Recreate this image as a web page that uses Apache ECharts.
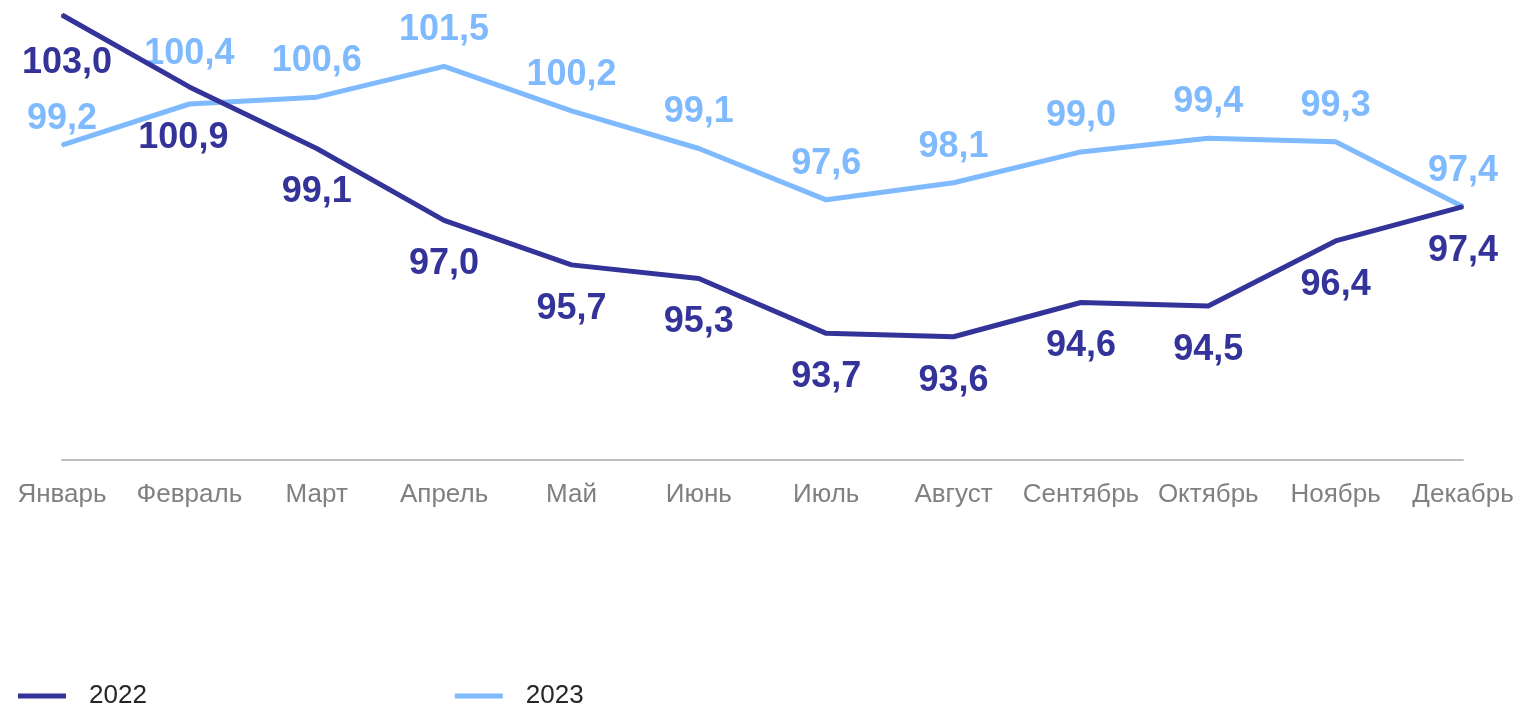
<!DOCTYPE html>
<html>
<head>
<meta charset="utf-8">
<script src="https://cdn.jsdelivr.net/npm/echarts@6/dist/echarts.min.js"></script>
<style>
  html, body { margin: 0; padding: 0; background: #fff; }
  #chart { width: 1519px; height: 707px; }
</style>
</head>
<body>
<div id="chart"></div>
<script>
// данные
var months = ["Январь", "Февраль", "Март", "Апрель", "Май", "Июнь", "Июль", "Август", "Сентябрь", "Октябрь", "Ноябрь", "Декабрь"];
var y2022 = [103.0, 100.9, 99.1, 97.0, 95.7, 95.3, 93.7, 93.6, 94.6, 94.5, 96.4, 97.4];
var y2023 = [99.2, 100.4, 100.6, 101.5, 100.2, 99.1, 97.6, 98.1, 99.0, 99.4, 99.3, 97.4];

var dark = "#333399";
var light = "#7fbaff";
var font = "'Liberation Sans', Arial, sans-serif";

function fmt(p) {
  return p.value.toFixed(1).replace(".", ",");
}

// сдвиги подписей, где они в оригинале стоят иначе
var shift2022 = { 0: [5, 4], 1: [-6, 7] };
var shift2023 = { 0: [0, 10], 1: [0, -14] };

function withShift(arr, shifts) {
  return arr.map(function (v, i) {
    if (shifts[i]) return { value: v, label: { offset: shifts[i] } };
    return v;
  });
}

var chart = echarts.init(document.getElementById("chart"));

var option = {
  animation: false,
  grid: { left: 62, right: 56, top: 15, bottom: 247 },
  legend: {
    left: 13,
    top: 678,
    itemWidth: 48,
    itemHeight: 5,
    itemGap: 308,
    icon: "rect",
    textStyle: { fontFamily: font, fontSize: 26, color: "#262626", padding: [0, 0, 0, 18] },
    data: ["2022", "2023"]
  },
  xAxis: {
    type: "category",
    boundaryGap: false,
    data: months,
    axisLine: { lineStyle: { color: "#bfbfbf", width: 2 } },
    axisTick: { show: false },
    axisLabel: { interval: 0, color: "#808080", fontFamily: font, fontSize: 26, margin: 22 }
  },
  yAxis: {
    type: "value",
    min: 90,
    max: 103,
    show: false,
    splitLine: { show: false }
  },
  series: [
    {
      name: "2022",
      type: "line",
      data: withShift(y2022, shift2022),
      symbol: "circle",
      symbolSize: 2,
      lineStyle: { color: dark, width: 5 },
      itemStyle: { color: dark },
      label: {
        show: true,
        position: "bottom",
        distance: 25,
        formatter: fmt,
        color: dark,
        fontFamily: font,
        fontSize: 36,
        fontWeight: "bold"
      },
      z: 3
    },
    {
      name: "2023",
      type: "line",
      data: withShift(y2023, shift2023),
      symbol: "circle",
      symbolSize: 2,
      lineStyle: { color: light, width: 5 },
      itemStyle: { color: light },
      label: {
        show: true,
        position: "top",
        distance: 17,
        formatter: fmt,
        color: light,
        fontFamily: font,
        fontSize: 36,
        fontWeight: "bold"
      },
      z: 2
    }
  ]
};

chart.setOption(option);
</script>
</body>
</html>
